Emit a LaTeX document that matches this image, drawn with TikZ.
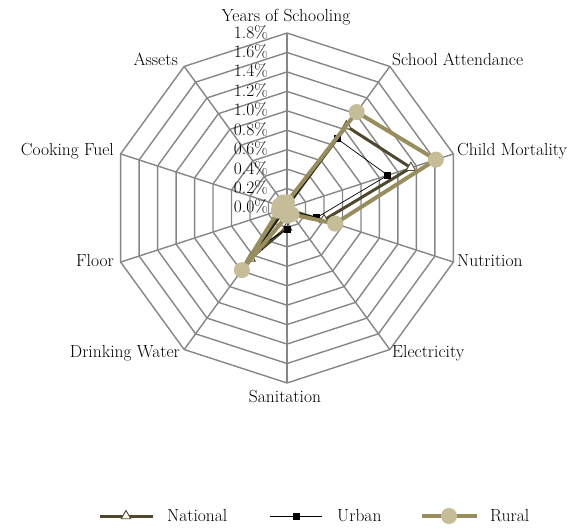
\documentclass[tikz,border=0pt]{standalone}
\usepackage{tikz}
\usepackage{xcolor}
\usetikzlibrary{arrows.meta,positioning,shapes.geometric}

\definecolor{gridgray}{RGB}{134,134,134}
\definecolor{natcol}{RGB}{79,72,45}
\definecolor{rurcol}{RGB}{152,141,92}
\definecolor{rurfill}{RGB}{197,189,152}

\begin{document}
\begin{tikzpicture}[x=1pt,y=1pt,
    font=\fontsize{17.5}{20}\selectfont,
    lab/.style={inner sep=0pt},
    gridline/.style={draw=gridgray,line width=1.4pt},
    natline/.style={draw=natcol,line width=3pt,line join=round},
    urbline/.style={draw=black,line width=0.7pt,line join=round},
    rurline/.style={draw=rurcol,line width=4pt,line join=round},
    natmark/.style={regular polygon,regular polygon sides=3,minimum size=11pt,inner sep=0pt,draw=natcol,line width=0.9pt,fill=white},
    urbmark/.style={rectangle,minimum size=7pt,inner sep=0pt,fill=black},
    rurmark/.style={circle,minimum size=16pt,inner sep=0pt,fill=rurfill}]
    \useasboundingbox (0,0) rectangle (576,528);

    \begin{scope}[shift={(287,320)}]
    % Grid rings and spokes
    \foreach \k in {1,...,9}
        \draw[gridline] (90:\k*19.44) \foreach \a in {54,18,...,-234} { -- (\a:\k*19.44) } -- cycle;
    \foreach \i in {0,...,9} {
        \coordinate (ax\i) at (90-36*\i:175);
        \draw[gridline] (0,0) -- (ax\i);
    }

    % Scale labels
    \foreach \t [count=\k from 0] in {0.0,0.2,0.4,0.6,0.8,1.0,1.2,1.4,1.6,1.8}
        \node[lab,anchor=base east] (tick\k) at (-19,\k*19.44-5) {\t\%};

    % Data points
    \foreach \v [count=\i from 0] in {0.02,1.04,1.34,0.40,0.05,0.20,0.64,0.03,0.03,0.02}
        \coordinate (n\i) at (90-36*\i:\v*97.22);
    \foreach \v [count=\i from 0] in {0.01,0.88,1.09,0.32,0.02,0.22,0.49,0.01,0.01,0.01}
        \coordinate (u\i) at (90-36*\i:\v*97.22);
    \foreach \v [count=\i from 0] in {0.06,1.22,1.61,0.52,0.08,0.08,0.79,0.09,0.08,0.07}
        \coordinate (r\i) at (90-36*\i:\v*97.22);

    % National
    \draw[natline] (n0) -- (n1) -- (n2) -- (n3) -- (n4) -- (n5) -- (n6) -- (n7) -- (n8) -- (n9) -- cycle;
    \foreach \i in {0,...,9} \node[natmark] (nm\i) at (n\i) {};
    % Urban
    \draw[urbline] (u0) -- (u1) -- (u2) -- (u3) -- (u4) -- (u5) -- (u6) -- (u7) -- (u8) -- (u9) -- cycle;
    \foreach \i in {0,...,9} \node[urbmark] (um\i) at (u\i) {};
    % Rural
    \draw[rurline] (r0) -- (r1) -- (r2) -- (r3) -- (r4) -- (r5) -- (r6) -- (r7) -- (r8) -- (r9) -- cycle;
    \foreach \i in {0,...,9} \node[rurmark] (rm\i) at (r\i) {};
    \end{scope}

    % Axis labels
    \node[lab,anchor=base] (l0) at (286,506) {Years of Schooling};
    \node[lab,anchor=base west] (l1) at (392,462) {School Attendance};
    \node[lab,anchor=base west] (l2) at (457,372) {Child Mortality};
    \node[lab,anchor=base west] (l3) at (457,261) {Nutrition};
    \node[lab,anchor=base west] (l4) at (392,170) {Electricity};
    \node[lab,anchor=base] (l5) at (285,125) {Sanitation};
    \node[lab,anchor=base east] (l6) at (180,170) {Drinking Water};
    \node[lab,anchor=base east] (l7) at (114,261) {Floor};
    \node[lab,anchor=base east] (l8) at (114,372) {Cooking Fuel};
    \node[lab,anchor=base east] (l9) at (178,462) {Assets};

    % Legend
    \coordinate (natA) at (100,12);
    \coordinate (natB) at (153,12);
    \draw[natline] (natA) -- (natB);
    \node[natmark] (natM) at (126,12) {};
    \node[lab,anchor=base west] (natT) at (167,7) {National};
    \coordinate (urbA) at (270,12);
    \coordinate (urbB) at (322,12);
    \draw[urbline] (urbA) -- (urbB);
    \node[urbmark] (urbM) at (296,12) {};
    \node[lab,anchor=base west] (urbT) at (337,7) {Urban};
    \coordinate (rurA) at (422,12);
    \coordinate (rurB) at (477,12);
    \draw[rurline] (rurA) -- (rurB);
    \node[rurmark] (rurM) at (449,12) {};
    \node[lab,anchor=base west] (rurT) at (490,7) {Rural};
\end{tikzpicture}
\end{document}
